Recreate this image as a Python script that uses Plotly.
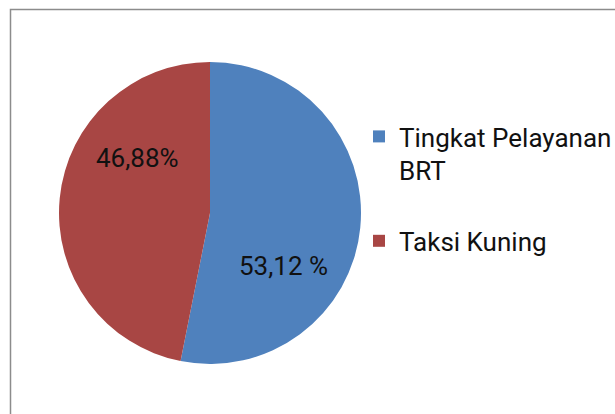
import plotly.graph_objects as go

labels = ["Tingkat Pelayanan<br>BRT<br> ", "Taksi Kuning"]
values = [53.12, 46.88]
text_labels = ["53,12 %", "46,88%"]
colors = ["#4F81BD", "#A84644"]

W, H = 615, 414
cx, cy, r = 210, 213, 151
FONT = "Roboto"

fig = go.Figure(go.Pie(
    labels=labels,
    values=values,
    textinfo="none",
    marker=dict(colors=colors, line=dict(width=0)),
    sort=False,
    direction="clockwise",
    rotation=0,
    hoverinfo="label+percent",
    domain=dict(x=[(cx - r) / W, (cx + r) / W], y=[(H - cy - r) / H, (H - cy + r) / H]),
))

label_pos = [(283, 266), (137, 158)]
annotations = [
    dict(text=t, x=px / W, y=1 - py / H, xref="paper", yref="paper",
         xanchor="center", yanchor="middle", showarrow=False,
         font=dict(family=FONT, size=26, color="#111111"))
    for t, (px, py) in zip(text_labels, label_pos)
]

fig.update_layout(
    width=W, height=H,
    margin=dict(l=0, r=0, t=0, b=0, autoexpand=False),
    paper_bgcolor="white",
    plot_bgcolor="white",
    showlegend=True,
    legend=dict(
        x=359 / W, y=1 - 113 / H, xanchor="left", yanchor="top",
        font=dict(family=FONT, size=26, color="#111111"),
        valign="top",
        tracegroupgap=0,
        bgcolor="rgba(0,0,0,0)",
    ),
    annotations=annotations,
    shapes=[dict(type="rect", xref="paper", yref="paper",
                 x0=10.5 / W, x1=1.2, y0=-0.2, y1=1 - 9.5 / H,
                 line=dict(color="#8C8C8C", width=1.5), layer="below")],
)

fig.write_html("out.html", config={"displayModeBar": False},
               post_script="document.body.style.margin='0';")
